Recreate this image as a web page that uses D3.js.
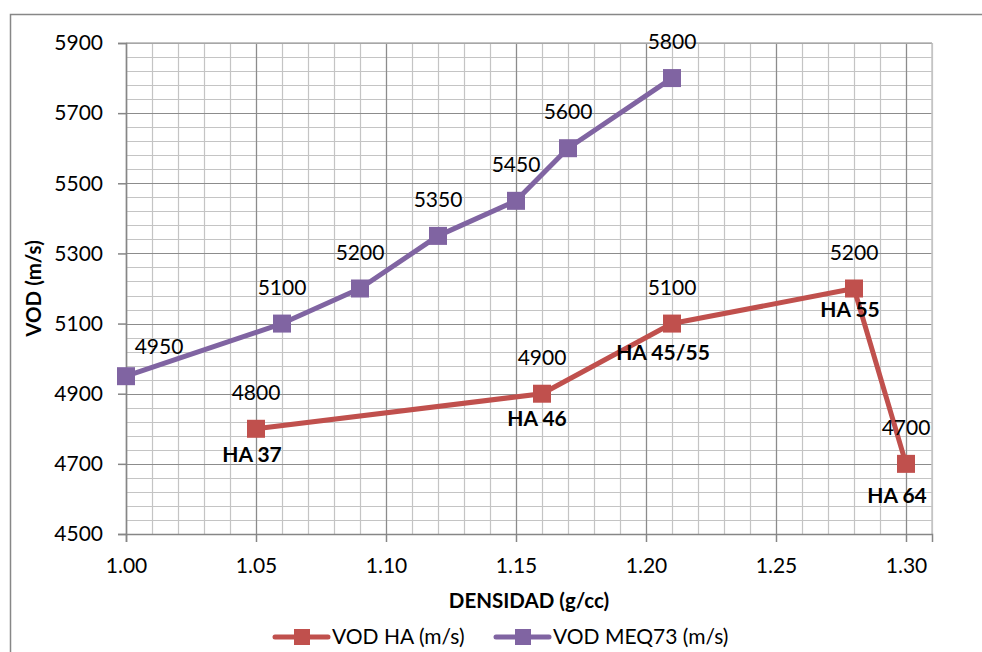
<!DOCTYPE html>
<html>
<head>
<meta charset="utf-8">
<script src="https://cdn.jsdelivr.net/npm/d3@7"></script>
<style>
  body { margin: 0; background: #fff; }
  svg { font-family: Lato, "Open Sans", sans-serif; }
</style>
</head>
<body>
<div id="chart"></div>
<script>
// densidad (g/cc) y VOD (m/s)
const haDensity = [1.05, 1.16, 1.21, 1.28, 1.30];
const haVod = [4800, 4900, 5100, 5200, 4700];
const haNames = ["HA 37", "HA 46", "HA 45/55", "HA 55", "HA 64"];

const meqDensity = [1.00, 1.06, 1.09, 1.12, 1.15, 1.17, 1.21];
const meqVod = [4950, 5100, 5200, 5350, 5450, 5600, 5800];

const xTicks = [1.00, 1.05, 1.10, 1.15, 1.20, 1.25, 1.30];
const yTicks = [4500, 4700, 4900, 5100, 5300, 5500, 5700, 5900];
const seriesNames = ["VOD HA (m/s)", "VOD MEQ73 (m/s)"];

const red = "#c0504d", purple = "#8064a2";
const fs = 21;

const W = 982, H = 652;
const margin = { top: 43, right: 50, bottom: 118, left: 126 };
const width = W - margin.left - margin.right;
const height = H - margin.top - margin.bottom;

const svg = d3.select("#chart").append("svg")
  .attr("width", W).attr("height", H);

// borde del grafico
svg.append("rect")
  .attr("x", 10.5).attr("y", 14.5)
  .attr("width", W).attr("height", H)
  .attr("fill", "none").attr("stroke", "#878787").attr("stroke-width", 1.5);

const g = svg.append("g").attr("transform", `translate(${margin.left},${margin.top})`);

const x = d3.scaleLinear().domain([1.00, 1.31]).range([0, width]);
const y = d3.scaleLinear().domain([4500, 5900]).range([height, 0]);

// rejilla menor
const xMinor = d3.range(0, 32).map(i => 1 + i * 0.01);
const yMinor = d3.range(0, 36).map(i => 4500 + i * 40);

g.append("g").selectAll("line").data(xMinor).join("line")
  .attr("x1", d => Math.round(x(d)) + 0.5).attr("x2", d => Math.round(x(d)) + 0.5)
  .attr("y1", 0).attr("y2", height)
  .attr("stroke", "#c4c4c4").attr("stroke-width", 1.2);
g.append("g").selectAll("line").data(yMinor).join("line")
  .attr("y1", d => Math.round(y(d)) + 0.5).attr("y2", d => Math.round(y(d)) + 0.5)
  .attr("x1", 0).attr("x2", width)
  .attr("stroke", "#c4c4c4").attr("stroke-width", 1.2);

// rejilla mayor
g.append("g").selectAll("line").data(xTicks).join("line")
  .attr("x1", d => Math.round(x(d)) + 0.5).attr("x2", d => Math.round(x(d)) + 0.5)
  .attr("y1", 0).attr("y2", height)
  .attr("stroke", "#8c8c8c").attr("stroke-width", 1.2);
g.append("g").selectAll("line").data(yTicks).join("line")
  .attr("y1", d => Math.round(y(d)) + 0.5).attr("y2", d => Math.round(y(d)) + 0.5)
  .attr("x1", 0).attr("x2", width)
  .attr("stroke", "#8c8c8c").attr("stroke-width", 1.2);

// borde derecho y superior
g.append("line").attr("x1", width).attr("x2", width).attr("y1", 0).attr("y2", height)
  .attr("stroke", "#c4c4c4").attr("stroke-width", 1.5);
g.append("line").attr("x1", 0).attr("x2", width).attr("y1", 0).attr("y2", 0)
  .attr("stroke", "#b0b0b0").attr("stroke-width", 1.5);

// ejes
const xAxis = g.append("g").attr("transform", `translate(0,${height})`)
  .call(d3.axisBottom(x).tickValues(xTicks).tickFormat(d3.format(".2f")).tickSize(8).tickPadding(13));
const yAxis = g.append("g")
  .call(d3.axisLeft(y).tickValues(yTicks).tickFormat(d3.format("d")).tickSize(8).tickPadding(15));

[xAxis, yAxis].forEach(a => {
  a.selectAll(".domain").attr("stroke", "#868686").attr("stroke-width", 1.5);
  a.selectAll(".tick line").attr("stroke", "#868686").attr("stroke-width", 1.5);
  a.selectAll("text").attr("font-size", fs).attr("fill", "#000")
    .attr("font-family", "Lato, sans-serif");
});
xAxis.selectAll("text").attr("dy", "0.85em");

// series
const haData = haDensity.map((d, i) => ({ x: d, y: haVod[i], name: haNames[i] }));
const meqData = meqDensity.map((d, i) => ({ x: d, y: meqVod[i] }));

const line = d3.line().x(d => x(d.x)).y(d => y(d.y));

function drawSeries(data, color) {
  g.append("path").datum(data)
    .attr("fill", "none").attr("stroke", color)
    .attr("stroke-width", 5).attr("stroke-linejoin", "round")
    .attr("d", line);
  g.append("g").selectAll("rect").data(data).join("rect")
    .attr("x", d => x(d.x) - 9).attr("y", d => y(d.y) - 9)
    .attr("width", 18).attr("height", 18)
    .attr("fill", color);
}
drawSeries(haData, red);
drawSeries(meqData, purple);

// etiquetas de valores
g.append("g").selectAll("text").data(meqData).join("text")
  .attr("x", (d, i) => x(d.x) + (i === 0 ? 33 : 0))
  .attr("y", (d, i) => y(d.y) - (i === 0 ? 22 : 29))
  .attr("text-anchor", "middle").attr("font-size", fs)
  .text(d => d.y);

g.append("g").selectAll("text").data(haData).join("text")
  .attr("x", d => x(d.x))
  .attr("y", d => y(d.y) - 29)
  .attr("text-anchor", "middle").attr("font-size", fs)
  .text(d => d.y);

const nameDx = [-4, -5, -9, -4, -9];
const nameDy = [33, 32, 36, 28, 39];
g.append("g").selectAll("text").data(haData).join("text")
  .attr("x", (d, i) => x(d.x) + nameDx[i])
  .attr("y", (d, i) => y(d.y) + nameDy[i])
  .attr("text-anchor", "middle").attr("font-size", fs).attr("font-weight", "bold")
  .text(d => d.name);

// titulos de ejes
svg.append("text")
  .attr("x", margin.left + width / 2).attr("y", 608)
  .attr("text-anchor", "middle").attr("font-size", 20.5).attr("font-weight", "bold")
  .text("DENSIDAD (g/cc)");
svg.append("text")
  .attr("transform", `translate(41,${margin.top + height / 2}) rotate(-90)`)
  .attr("text-anchor", "middle").attr("font-size", 20.5).attr("font-weight", "bold")
  .text("VOD (m/s)");

// leyenda
const legend = svg.append("g").attr("transform", "translate(0,637)");
const legendX = [275, 496];
[red, purple].forEach((c, i) => {
  const lg = legend.append("g").attr("transform", `translate(${legendX[i]},0)`);
  lg.append("line").attr("x1", 0).attr("x2", 53).attr("y1", 0).attr("y2", 0)
    .attr("stroke", c).attr("stroke-width", 5).attr("stroke-linecap", "round");
  lg.append("rect").attr("x", 19).attr("y", -8).attr("width", 16).attr("height", 16).attr("fill", c);
  lg.append("text").attr("x", 57).attr("y", 7).attr("font-size", fs).text(seriesNames[i]);
});
</script>
</body>
</html>
